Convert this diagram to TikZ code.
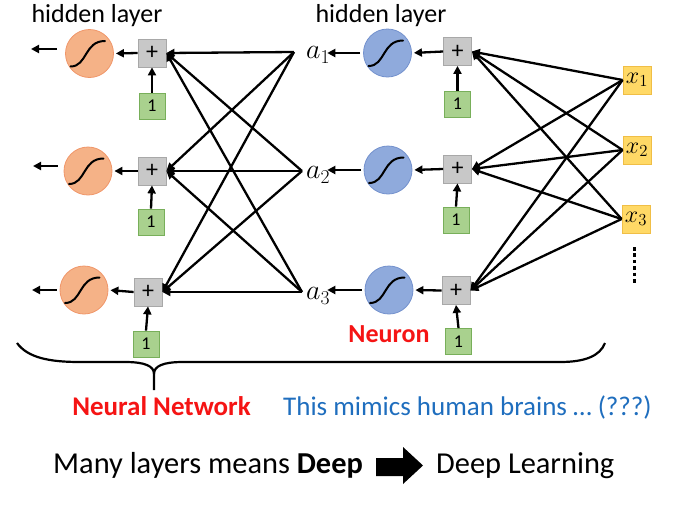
\RequirePackage{fix-cm}
\documentclass[tikz,border=0pt]{standalone}
\usepackage{fontspec}
\setmainfont{Carlito}
\usetikzlibrary{arrows.meta}
\definecolor{ofill}{RGB}{245,178,135}
\definecolor{oedge}{RGB}{240,150,105}
\definecolor{bfill}{RGB}{143,170,220}
\definecolor{bedge}{RGB}{115,145,205}
\definecolor{gfill}{RGB}{200,200,200}
\definecolor{gedge}{RGB}{168,168,168}
\definecolor{grfill}{RGB}{169,209,142}
\definecolor{gredge}{RGB}{120,175,90}
\definecolor{yfill}{RGB}{255,217,102}
\definecolor{yedge}{RGB}{240,190,70}
\definecolor{redtxt}{RGB}{245,20,20}
\definecolor{bluetxt}{RGB}{31,110,190}
\begin{document}
\begin{tikzpicture}[x=1pt,y=-1pt,
  ocirc/.style={circle,draw=oedge,fill=ofill,line width=0.8pt,minimum size=48pt,inner sep=0pt},
  bcirc/.style={circle,draw=bedge,fill=bfill,line width=0.8pt,minimum size=48pt,inner sep=0pt},
  plusbox/.style={draw=gedge,fill=gfill,line width=0.8pt,minimum size=28pt,inner sep=0pt,font=\fontsize{24}{24}\selectfont},
  onebox/.style={draw=gredge,fill=grfill,line width=0.8pt,minimum size=26pt,inner sep=0pt,font=\fontsize{18}{18}\selectfont},
  xbox/.style={draw=yedge,fill=yfill,line width=0.8pt,minimum size=28pt,inner sep=0pt,font=\fontsize{24}{24}\selectfont},
  conn/.style={line width=2.3pt,-{Triangle[length=8pt,width=8pt]}},
  sig/.style={line width=2pt,line cap=round},
  alab/.style={inner sep=0pt,anchor=west,font=\fontsize{28}{28}\selectfont},
  title/.style={anchor=base,font=\fontsize{26}{30}\selectfont},
  big/.style={font=\fontsize{30.4}{34}\selectfont},
]
\useasboundingbox (0,0) rectangle (678,507);

% titles
\node[title] (hl1) at (97,22) {hidden layer};
\node[title] (hl2) at (381,22) {hidden layer};

% left layer
\node[ocirc] (O1) at (89.5,53.5) {};
\node[ocirc] (O2) at (88,171) {};
\node[ocirc] (O3) at (84,290) {};
\node[plusbox] (P1) at (152,53) {+};
\node[plusbox] (P2) at (152,171) {+};
\node[plusbox] (P3) at (148,292) {+};
\node[onebox] (B1) at (152,106) {1};
\node[onebox] (B2) at (151,222) {1};
\node[onebox] (B3) at (146,344) {1};

% right layer
\node[bcirc] (N1) at (387.5,53) {};
\node[bcirc] (N2) at (388,170) {};
\node[bcirc] (N3) at (389,290) {};
\node[plusbox] (Q1) at (457.5,51.5) {+};
\node[plusbox] (Q2) at (457.5,169) {+};
\node[plusbox] (Q3) at (456,290.5) {+};
\node[onebox] (C1) at (457.5,104) {1};
\node[onebox] (C2) at (456,220) {1};
\node[onebox] (C3) at (458.5,341.5) {1};

% a labels
\node[alab] (a1) at (306,55) {$a_1$};
\node[alab] (a2) at (306,175) {$a_2$};
\node[alab] (a3) at (306,296) {$a_3$};
\coordinate (c1) at (294,52);
\coordinate (c2) at (302,171);
\coordinate (c3) at (302,292);

% inputs
\node[xbox] (X1) at (637,80) {$x_1$};
\node[xbox] (X2) at (637,150) {$x_2$};
\node[xbox] (X3) at (636,219) {$x_3$};
\coordinate (d1) at (634.5,247);
\coordinate (d2) at (634.5,284);
\draw[line width=3.6pt,dash pattern=on 3.6pt off 2.8pt] (d1) -- (d2);

% sigmoids
\foreach \n in {O1,O2,O3,N1,N2,N3}{
  \draw[sig] ([shift={(-19,13)}]\n.center) .. controls +(17,0) and +(-21,0) .. ([shift={(15.5,-12.5)}]\n.center);
}

% connections left
\foreach \a in {c1,c2,c3}{
  \foreach \p in {P1,P2,P3}{
    \draw[conn] (\a) -- (\p.east);
  }
}
% connections right
\foreach \x in {X1,X2,X3}{
  \foreach \q in {Q1,Q2,Q3}{
    \draw[conn] (\x.west) -- (\q.east);
  }
}

% bias arrows
\foreach \b/\p in {B1/P1,B2/P2,B3/P3,C1/Q1,C2/Q2,C3/Q3}{
  \draw[conn] (\b.north) -- (\p.south);
}
% plus -> circle
\foreach \p/\o in {P1/O1,P2/O2,P3/O3,Q1/N1,Q2/N2,Q3/N3}{
  \draw[conn,shorten >=2pt] (\p.west) -- (\o.east);
}
% circle -> a
\foreach \n/\a in {N1/a1,N2/a2,N3/a3}{
  \draw[conn,shorten <=3pt,shorten >=-3pt] (\n.west) -- (\n.west -| \a.east);
}
% outputs of left layer
\coordinate (e1) at (31,49);
\coordinate (e2) at (33,166);
\coordinate (e3) at (32,290);
\draw[conn] ([shift={(-8,-4.5)}]O1.west) -- (e1);
\draw[conn] ([shift={(-6,-5)}]O2.west) -- (e2);
\draw[conn] ([shift={(-3,0)}]O3.west) -- (e3);

% labels
\node[anchor=base,text=redtxt,font=\fontsize{26}{30}\selectfont\bfseries] (neuron) at (389,342) {Neuron};

% brace
\draw[line width=2.2pt] (17,343) .. controls (28,358) and (50,362) .. (80,362) -- (125,362)
  .. controls (145,362) and (154,366) .. (154,374) -- (154,390);
\draw[line width=2.2pt] (154,374) .. controls (154,366) and (163,362) .. (183,362) -- (560,362)
  .. controls (585,362) and (600,356) .. (605,343);

\node[anchor=base,text=redtxt,font=\fontsize{27}{30}\selectfont\bfseries] (nn) at (161.5,415) {Neural Network};
\node[anchor=base west,inner sep=0pt,text=bluetxt,font=\fontsize{27}{30}\selectfont] (mim) at (283,415) {This mimics human brains … (???)};

\node[anchor=base west,inner sep=0pt,big] (many) at (53,473) {Many layers means \textbf{Deep}};
\node[anchor=base west,inner sep=0pt,big] (dl) at (436,473) {Deep Learning};
\fill (376,458) -- (403,458) -- (403,447) -- (423,465.5) -- (403,484) -- (403,476) -- (376,476) -- cycle;
\end{tikzpicture}
\end{document}
